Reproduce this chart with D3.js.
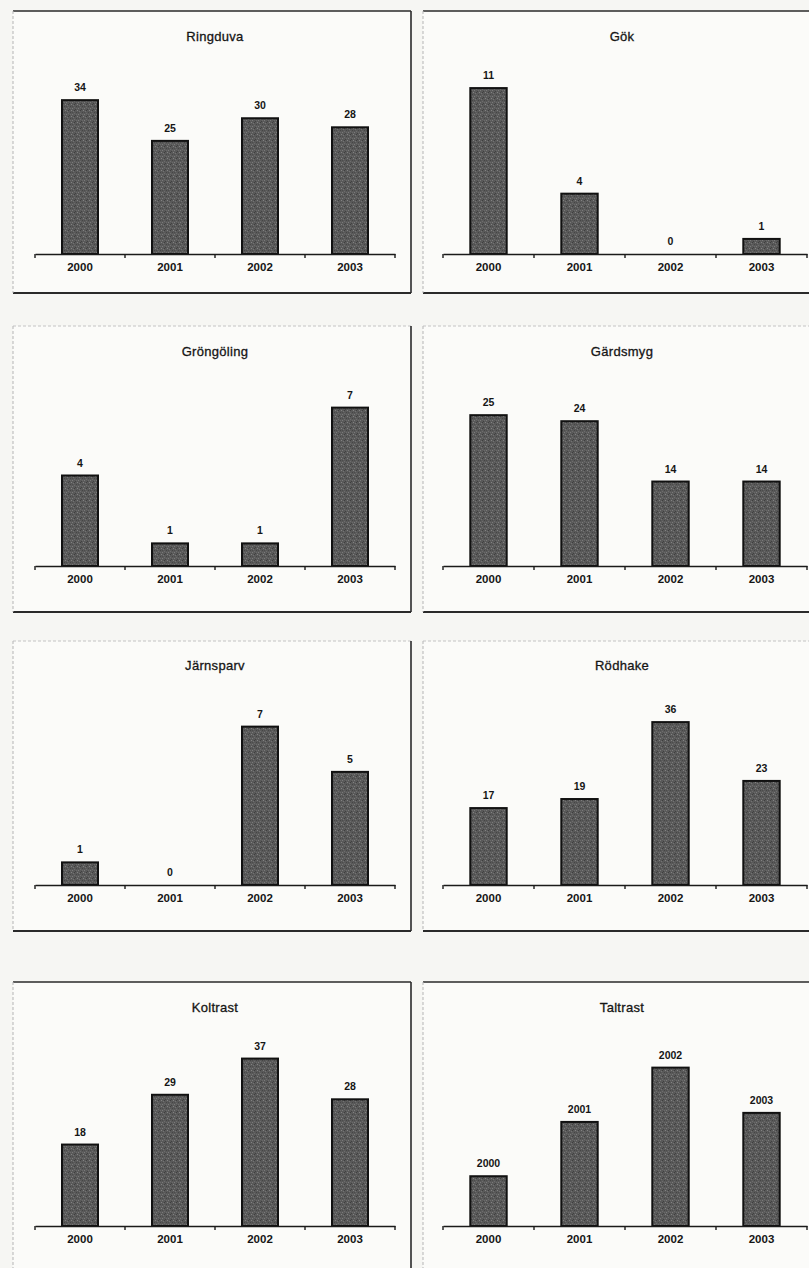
<!DOCTYPE html>
<html>
<head>
<meta charset="utf-8">
<script src="https://cdn.jsdelivr.net/npm/d3@7"></script>
<style>
  html, body { margin: 0; padding: 0; background: #f6f6f3; }
  svg { display: block; }
  text { font-family: "Liberation Sans", Arial, sans-serif; fill: #151515; }
</style>
</head>
<body>
<svg id="chart" width="809" height="1268"></svg>
<script>
// ---- data ----
const years = ["2000", "2001", "2002", "2003"];
const species = ["Ringduva", "Gök", "Gröngöling", "Gärdsmyg", "Järnsparv", "Rödhake", "Koltrast", "Taltrast"];
const ringduva   = [34, 25, 30, 28];
const gok        = [11, 4, 0, 1];
const grongoling = [4, 1, 1, 7];
const gardsmyg   = [25, 24, 14, 14];
const jarnsparv  = [1, 0, 7, 5];
const rodhake    = [17, 19, 36, 23];
const koltrast   = [18, 29, 37, 28];
const taltrast   = [11, 23, 35, 25];
const seriesValues = [ringduva, gok, grongoling, gardsmyg, jarnsparv, rodhake, koltrast, taltrast];
const axisMax = [40, 12, 8, 30, 8, 40, 40, 40];
// Taltrast panel prints the year as the data label (as in the original)
const taltrastLabels = ["2000", "2001", "2002", "2003"];

// ---- layout ----
const svg = d3.select("#chart");
const defs = svg.append("defs");
const pat = defs.append("pattern").attr("id", "tex").attr("patternUnits", "userSpaceOnUse")
  .attr("width", 6).attr("height", 6);
pat.append("rect").attr("width", 6).attr("height", 6).attr("fill", "#595959");
[[0,0,"#7a7a7a"],[3,1,"#424242"],[1,3,"#737373"],[4,4,"#454545"],[2,5,"#6d6d6d"],[5,2,"#828282"],[0,4,"#4c4c4c"],[4,0,"#6a6a6a"],[2,2,"#3e3e3e"]]
  .forEach(([x, y, c]) => pat.append("rect").attr("x", x).attr("y", y).attr("width", 1).attr("height", 1).attr("fill", c));

const cols = [
  { boxX0: 13, boxX1: 411, ax0: 35, ax1: 395 },
  { boxX0: 423, boxX1: 840, ax0: 443, ax1: 807 }
];
const rows = [
  { top: 11,  bottom: 293, base: 254, title: 38,  darkTop: true },
  { top: 326, bottom: 612, base: 566, title: 353, darkTop: false },
  { top: 641, bottom: 931, base: 885, title: 667, darkTop: false },
  { top: 982, bottom: 1300, base: 1226, title: 1009, darkTop: true }
];
const plotH = 181;

species.forEach((name, i) => {
  const c = cols[i % 2], r = rows[Math.floor(i / 2)];
  const g = svg.append("g");
  const vals = seriesValues[i];
  const labels = name === "Taltrast" ? taltrastLabels : vals.map(String);

  // panel frame
  g.append("rect").attr("x", c.boxX0).attr("y", r.top)
    .attr("width", c.boxX1 - c.boxX0).attr("height", r.bottom - r.top)
    .attr("fill", "#fbfbf9").attr("stroke", "none");
  g.append("line").attr("x1", c.boxX0).attr("x2", c.boxX1).attr("y1", r.top).attr("y2", r.top)
    .attr("stroke", r.darkTop ? "#2a2a2a" : "#c4c4c4").attr("stroke-width", r.darkTop ? 1.6 : 1)
    .attr("stroke-dasharray", r.darkTop ? null : "3,2");
  g.append("line").attr("x1", c.boxX0).attr("x2", c.boxX1).attr("y1", r.bottom).attr("y2", r.bottom)
    .attr("stroke", "#2a2a2a").attr("stroke-width", 1.8);
  g.append("line").attr("x1", c.boxX0).attr("x2", c.boxX0).attr("y1", r.top).attr("y2", r.bottom)
    .attr("stroke", "#b5b5b5").attr("stroke-width", 1).attr("stroke-dasharray", "3,2");
  g.append("line").attr("x1", c.boxX1).attr("x2", c.boxX1).attr("y1", r.top).attr("y2", r.bottom)
    .attr("stroke", "#2a2a2a").attr("stroke-width", 1.6);

  const x = d3.scaleBand().domain(years).range([c.ax0, c.ax1]).paddingInner(0.6).paddingOuter(0.3);
  const y = d3.scaleLinear().domain([0, axisMax[i]]).range([r.base, r.base - plotH]);
  const step = x.step();

  // title
  g.append("text").attr("x", (c.ax0 + c.ax1) / 2 + (i % 2 ? -3 : 0)).attr("y", r.title)
    .attr("text-anchor", "middle").attr("dominant-baseline", "middle")
    .attr("font-size", 13).attr("letter-spacing", 0.3)
    .attr("stroke", "#151515").attr("stroke-width", 0.3).text(name);

  // bars
  g.selectAll("rect.bar").data(vals).join("rect").attr("class", "bar")
    .attr("x", (d, j) => x(years[j]))
    .attr("y", d => y(d))
    .attr("width", x.bandwidth())
    .attr("height", d => r.base - y(d))
    .attr("fill", "url(#tex)")
    .attr("stroke", d => d > 0 ? "#111" : "none")
    .attr("stroke-width", 2);

  // value labels
  g.selectAll("text.val").data(vals).join("text").attr("class", "val")
    .attr("x", (d, j) => x(years[j]) + x.bandwidth() / 2)
    .attr("y", d => y(d) - 9)
    .attr("text-anchor", "middle")
    .attr("font-size", 10.5).attr("font-weight", "bold")
    .text((d, j) => labels[j]);

  // axis
  const axis = d3.axisBottom(x).tickSize(0).tickPadding(9);
  const ag = g.append("g").attr("transform", `translate(0,${r.base})`).call(axis);
  ag.select(".domain").attr("stroke", "#1a1a1a").attr("stroke-width", 1.7);
  ag.selectAll(".tick text").attr("font-size", 11.5).attr("font-weight", "bold")
    .attr("font-family", "'Liberation Sans', Arial, sans-serif").attr("fill", "#151515");
  // category boundary ticks
  const bounds = years.map(yr => x(yr) - step * 0.3).concat([c.ax1]);
  ag.selectAll("line.sep").data(bounds).join("line").attr("class", "sep")
    .attr("x1", d => d).attr("x2", d => d).attr("y1", 0).attr("y2", 4)
    .attr("stroke", "#1a1a1a").attr("stroke-width", 1.4);
});
</script>
</body>
</html>
